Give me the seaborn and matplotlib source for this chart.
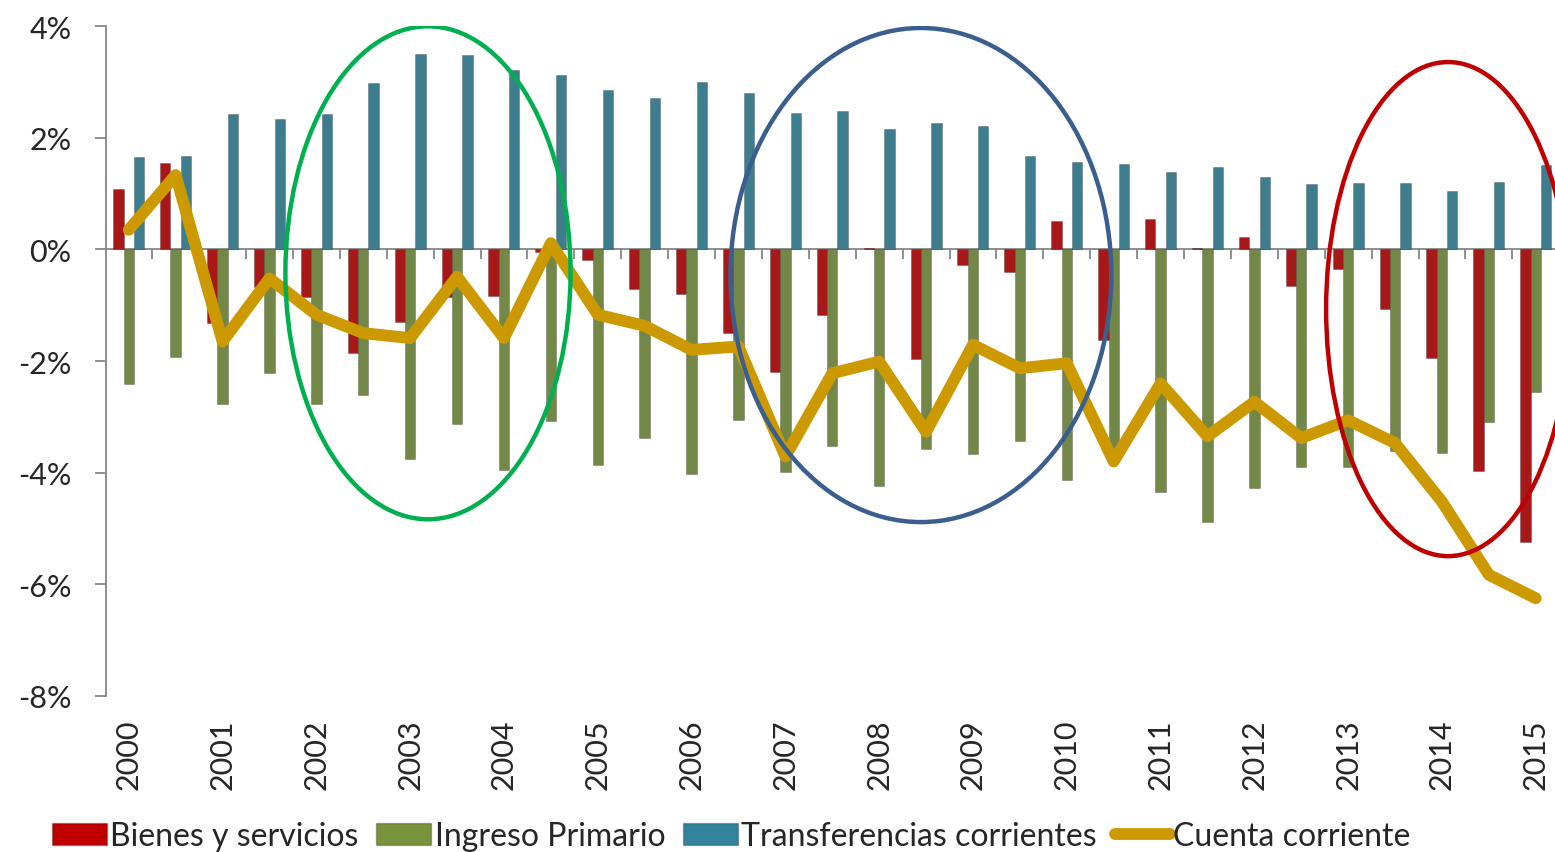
import numpy as np
import pandas as pd
import seaborn as sns
import matplotlib.pyplot as plt
from matplotlib.patches import Patch, Ellipse
from matplotlib.lines import Line2D
from matplotlib.ticker import FuncFormatter

# semestres 2000-I ... 2015-I, etiqueta solo en el primer semestre de cada anio
anios = ["2000", "2001", "2002", "2003", "2004", "2005", "2006", "2007",
         "2008", "2009", "2010", "2011", "2012", "2013", "2014", "2015"]
periodos = [f"{a}-{s}" for a in anios for s in ("I", "II")][:-1]

series = ["Bienes y servicios", "Ingreso Primario", "Transferencias corrientes"]

bienes = [1.08, 1.55, -1.32, -0.67, -0.86, -1.85, -1.31, -0.85, -0.83, -0.05,
          -0.19, -0.71, -0.80, -1.50, -2.19, -1.18, 0.03, -1.97, -0.28, -0.41,
          0.50, -1.63, 0.54, 0.03, 0.23, -0.65, -0.36, -1.06, -1.94, -3.97,
          -5.25]
ingreso = [-2.42, -1.92, -2.77, -2.21, -2.77, -2.60, -3.76, -3.13, -3.96, -3.07,
           -3.86, -3.38, -4.03, -3.06, -3.98, -3.52, -4.24, -3.58, -3.67, -3.43,
           -4.13, -3.75, -4.35, -4.88, -4.28, -3.90, -3.90, -3.61, -3.64, -3.09,
           -2.55]
transferencias = [1.66, 1.67, 2.43, 2.34, 2.43, 2.98, 3.50, 3.48, 3.22, 3.13,
                  2.86, 2.71, 2.99, 2.80, 2.44, 2.48, 2.15, 2.27, 2.21, 1.68,
                  1.56, 1.52, 1.38, 1.47, 1.29, 1.17, 1.19, 1.19, 1.05, 1.20,
                  1.51]
cuenta = [0.35, 1.33, -1.65, -0.52, -1.17, -1.50, -1.59, -0.49, -1.59, 0.11,
          -1.17, -1.37, -1.80, -1.74, -3.71, -2.22, -2.01, -3.27, -1.71, -2.13,
          -2.04, -3.80, -2.40, -3.35, -2.73, -3.38, -3.06, -3.47, -4.52, -5.83,
          -6.25]

colores = ["#C00000", "#77933C", "#31849B"]
color_linea = "#CC9900"
gris = "#868686"

# elipses de resaltado: (centro x, centro y, ancho, alto, color)
elipses = [(6.38, -0.42, 6.08, 8.83, "#00B050"),
           (16.89, -0.46, 8.12, 8.85, "#3A5F8E"),
           (28.13, -1.07, 5.2, 8.85, "#C00000")]

df = pd.DataFrame({
    "periodo": periodos * 3,
    "serie": np.repeat(series, len(periodos)),
    "valor": bienes + ingreso + transferencias,
})

sns.set_theme(style="ticks")
plt.rcParams["font.family"] = ["Lato", "DejaVu Sans"]

fig = plt.figure(figsize=(15.55, 8.53), dpi=100)
ax = fig.add_axes([0.0682, 0.1829, 0.9318, 0.7854])

sns.barplot(data=df, x="periodo", y="valor", hue="serie", order=periodos,
            hue_order=series, palette=colores, width=0.66, errorbar=None,
            edgecolor=(0, 0, 0, 0.25), linewidth=0.6, legend=False, ax=ax, zorder=2)
sns.lineplot(x=np.arange(len(periodos)), y=cuenta, color=color_linea, linewidth=8.5,
             solid_capstyle="round", solid_joinstyle="round", ax=ax, zorder=3)

for x, y, w, h, c in elipses:
    ax.add_patch(Ellipse((x, y), w, h, fill=False, edgecolor=c, linewidth=3.2, zorder=5))

ax.set_xlim(-0.484, 30.41)
ax.set_ylim(-8, 4)
ax.set_xlabel("")
ax.set_ylabel("")

ax.set_yticks(np.arange(-8, 5, 2))
ax.yaxis.set_major_formatter(FuncFormatter(lambda v, _: f"{v:.0f}%"))
ax.tick_params(axis="y", direction="out", length=8, width=1.3, color=gris,
               pad=17, labelsize=22)

ax.set_xticks(range(0, len(periodos), 2), anios, rotation=90)
ax.tick_params(axis="x", length=0, pad=16, labelsize=22)

for s in ["top", "right", "bottom"]:
    ax.spines[s].set_visible(False)
ax.spines["left"].set_color(gris)
ax.spines["left"].set_linewidth(1.3)

# eje de categorias cruzando en 0
cero = (0 - ax.get_ylim()[0]) / (ax.get_ylim()[1] - ax.get_ylim()[0])
sec = ax.secondary_xaxis(cero)
sec.set_alignment("bottom")
sec.set_xticks(np.arange(0.5, len(periodos) - 0.5, 1))
sec.tick_params(axis="x", direction="out", length=7, width=1.3, color=gris,
                labelbottom=False, labeltop=False)
sec.spines["bottom"].set_color(gris)
sec.spines["bottom"].set_linewidth(1.3)

handles = [Patch(facecolor=c, edgecolor=(0, 0, 0, 0.25)) for c in colores]
handles.append(Line2D([0], [0], color=color_linea, linewidth=8.5, solid_capstyle="round"))
fig.legend(handles, series + ["Cuenta corriente"], loc="center left",
           bbox_to_anchor=(52 / 1555, 1 - 837 / 853), ncol=4, frameon=False,
           fontsize=23, handlelength=1.72, handletextpad=0.1, columnspacing=0.56,
           borderpad=0, borderaxespad=0)

fig.savefig("out.png", dpi=100)
